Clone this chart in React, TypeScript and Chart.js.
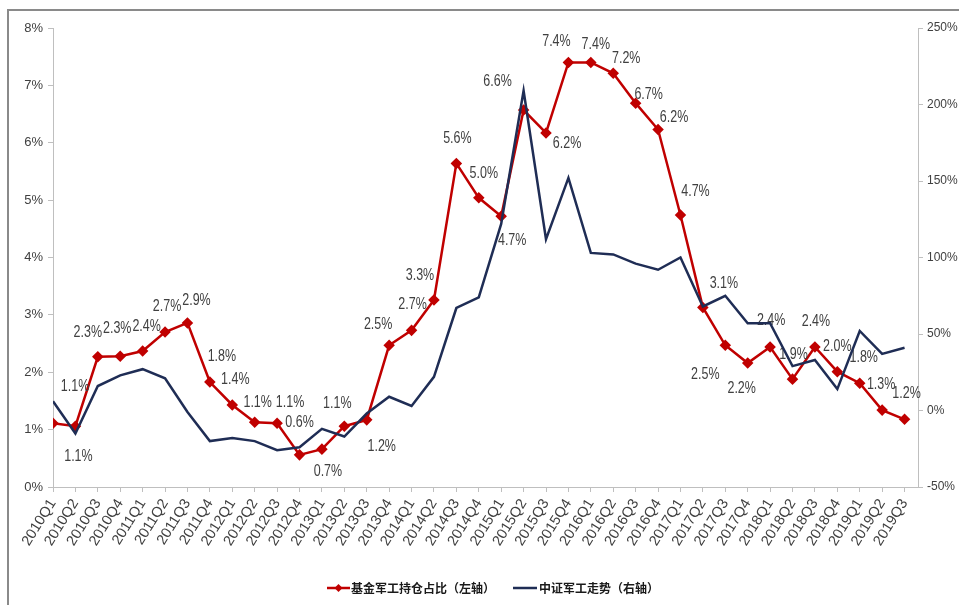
import React, { useEffect, useRef } from "react";
import { Chart, registerables } from "chart.js";

Chart.register(...registerables);

const categories = [
  "2010Q1", "2010Q2", "2010Q3", "2010Q4",
  "2011Q1", "2011Q2", "2011Q3", "2011Q4",
  "2012Q1", "2012Q2", "2012Q3", "2012Q4",
  "2013Q1", "2013Q2", "2013Q3", "2013Q4",
  "2014Q1", "2014Q2", "2014Q3", "2014Q4",
  "2015Q1", "2015Q2", "2015Q3", "2015Q4",
  "2016Q1", "2016Q2", "2016Q3", "2016Q4",
  "2017Q1", "2017Q2", "2017Q3", "2017Q4",
  "2018Q1", "2018Q2", "2018Q3", "2018Q4",
  "2019Q1", "2019Q2", "2019Q3",
];

// 基金军工持仓占比 (%), left axis
const fundShare = [
  1.11, 1.06, 2.27, 2.28,
  2.37, 2.70, 2.86, 1.83,
  1.43, 1.13, 1.11, 0.56,
  0.66, 1.06, 1.17, 2.47,
  2.73, 3.26, 5.64, 5.04,
  4.72, 6.57, 6.17, 7.40,
  7.40, 7.21, 6.69, 6.23,
  4.74, 3.13, 2.47, 2.16,
  2.44, 1.88, 2.44, 2.01,
  1.81, 1.34, 1.18,
];

// 中证军工走势 (%), right axis
const indexTrend = [
  6, -15, 16, 23,
  27, 21, -1, -20,
  -18, -20, -26, -24,
  -12, -17, -2, 9,
  3, 22, 67, 74,
  122, 209, 112, 152,
  103, 102, 96, 92,
  100, 68, 75, 57,
  57, 29, 33, 14,
  52, 37, 41,
];

const leftTicks = [0, 1, 2, 3, 4, 5, 6, 7, 8];
const rightTicks = [-50, 0, 50, 100, 150, 200, 250];

const seriesNames = ["基金军工持仓占比（左轴）", "中证军工走势（右轴）"];

// label offsets (dx, dy) relative to each red point
const labelOffsets: [number, number][] = [
  [22, -37], [3, 30], [-10, -24], [-3, -28],
  [4, -24], [2, -25], [9, -22], [12, -25],
  [3, -25], [3, -20], [13, -21], [0, -32],
  [6, 22], [-7, -23], [15, 27], [-11, -21],
  [1, -26], [-14, -24], [1, -25], [5, -24],
  [11, 24], [-26, -28], [21, 11], [-12, -21],
  [5, -18], [13, -15], [13, -9], [16, -12],
  [15, -23], [21, -24], [-20, 29], [-6, 26],
  [1, -26], [1, -25], [1, -25], [0, -25],
  [4, -26], [-1, -26], [2, -26],
];

const RED = "#C00000";
const BLUE = "#1F2D55";
const AXIS = "#bfbfbf";
const TEXT = "#404040";
const FONT = "'Liberation Sans', Arial, sans-serif";

const labelPlugin = {
  id: "redLabels",
  afterDatasetDraw(chart: any, args: any) {
    if (args.index !== 0) return;
    const ctx = chart.ctx;
    const meta = chart.getDatasetMeta(0);
    const sx = 0.78;
    ctx.save();
    ctx.font = `16px ${FONT}`;
    ctx.fillStyle = TEXT;
    ctx.textAlign = "center";
    ctx.textBaseline = "middle";
    meta.data.forEach((pt: any, i: number) => {
      const v = fundShare[i];
      const txt = (Math.round(v * 10) / 10).toFixed(1) + "%";
      const [dx, dy] = labelOffsets[i] || [0, -20];
      ctx.save();
      ctx.translate(pt.x + dx, pt.y + dy);
      ctx.scale(sx, 1);
      ctx.fillText(txt, 0, 0);
      ctx.restore();
    });
    ctx.restore();
  },
};

const legendPlugin = {
  id: "customLegend",
  afterDraw(chart: any) {
    const ctx = chart.ctx;
    const y = 588;
    ctx.save();
    ctx.font = "bold 12px 'Noto Sans CJK SC', sans-serif";
    ctx.textBaseline = "middle";
    ctx.textAlign = "left";
    // red item
    ctx.strokeStyle = RED;
    ctx.lineWidth = 2.5;
    ctx.beginPath();
    ctx.moveTo(327, y);
    ctx.lineTo(350, y);
    ctx.stroke();
    ctx.fillStyle = RED;
    ctx.beginPath();
    ctx.moveTo(338.5, y - 4);
    ctx.lineTo(342.5, y);
    ctx.lineTo(338.5, y + 4);
    ctx.lineTo(334.5, y);
    ctx.closePath();
    ctx.fill();
    ctx.fillStyle = "#1a1a1a";
    ctx.fillText(seriesNames[0], 351, y);
    // blue item
    ctx.strokeStyle = BLUE;
    ctx.beginPath();
    ctx.moveTo(513, y);
    ctx.lineTo(537, y);
    ctx.stroke();
    ctx.fillText(seriesNames[1], 539, y);
    ctx.restore();
  },
};

export default function App() {
  const ref = useRef<HTMLCanvasElement>(null);

  useEffect(() => {
    if (!ref.current) return;
    const chart = new Chart(ref.current, {
      type: "line",
      data: {
        datasets: [
          {
            label: seriesNames[0],
            data: fundShare.map((v, i) => ({ x: i, y: v })),
            borderColor: RED,
            backgroundColor: RED,
            borderWidth: 2.5,
            pointStyle: "rectRot",
            pointRadius: 4,
            pointBackgroundColor: RED,
            pointBorderColor: RED,
            yAxisID: "y",
            order: 1,
            tension: 0,
          },
          {
            label: seriesNames[1],
            data: indexTrend.map((v, i) => ({ x: i, y: v })),
            borderColor: BLUE,
            backgroundColor: BLUE,
            borderWidth: 2.5,
            pointRadius: 0,
            yAxisID: "y1",
            order: 0,
            tension: 0,
          },
        ],
      },
      options: {
        animation: false,
        responsive: false,
        maintainAspectRatio: false,
        layout: { padding: { top: 28, left: 0, right: 0, bottom: 0 } },
        plugins: {
          legend: { display: false },
          tooltip: { enabled: false },
        },
        scales: {
          x: {
            type: "linear",
            position: "bottom",
            min: 0,
            max: 38.6,
            afterBuildTicks: (s: any) => {
              s.ticks = categories.map((_, i) => ({ value: i }));
            },
            afterFit: (s: any) => {
              s.height = 118;
            },
            ticks: {
              autoSkip: false,
              maxRotation: 58,
              minRotation: 58,
              padding: 4,
              color: TEXT,
              font: { size: 14.5, family: FONT },
              callback: (v: any) => categories[v] ?? "",
            },
            grid: { drawOnChartArea: false, drawTicks: true, tickLength: 5, color: AXIS },
            border: { color: AXIS, width: 1 },
          },
          y: {
            type: "linear",
            position: "left",
            min: leftTicks[0],
            max: leftTicks[leftTicks.length - 1],
            afterBuildTicks: (s: any) => {
              s.ticks = leftTicks.map((v) => ({ value: v }));
            },
            afterFit: (s: any) => {
              s.width = 53;
            },
            ticks: {
              padding: 5,
              color: TEXT,
              font: { size: 13, family: FONT },
              callback: (v: any) => v + "%",
            },
            grid: { drawOnChartArea: false, drawTicks: true, tickLength: 5, color: AXIS },
            border: { color: AXIS, width: 1 },
          },
          y1: {
            type: "linear",
            position: "right",
            min: rightTicks[0],
            max: rightTicks[rightTicks.length - 1],
            afterBuildTicks: (s: any) => {
              s.ticks = rightTicks.map((v) => ({ value: v }));
            },
            afterFit: (s: any) => {
              s.width = 41;
            },
            ticks: {
              padding: 4,
              color: TEXT,
              font: { size: 12, family: FONT },
              callback: (v: any) => v + "%",
            },
            grid: { drawOnChartArea: false, drawTicks: true, tickLength: 5, color: AXIS },
            border: { color: AXIS, width: 1 },
          },
        },
      },
      plugins: [labelPlugin, legendPlugin],
    });
    return () => chart.destroy();
  }, []);

  return (
    <div style={{ position: "absolute", left: 0, top: 0, width: 959, height: 605, background: "#fff" }}>
      <div
        style={{
          position: "absolute",
          left: 7,
          top: 9,
          width: 960,
          height: 600,
          borderLeft: "2px solid #8a8a8a",
          borderTop: "2px solid #8a8a8a",
          boxSizing: "border-box",
        }}
      />
      <canvas ref={ref} width={959} height={605} style={{ position: "absolute", left: 0, top: 0, width: 959, height: 605 }} />
    </div>
  );
}
